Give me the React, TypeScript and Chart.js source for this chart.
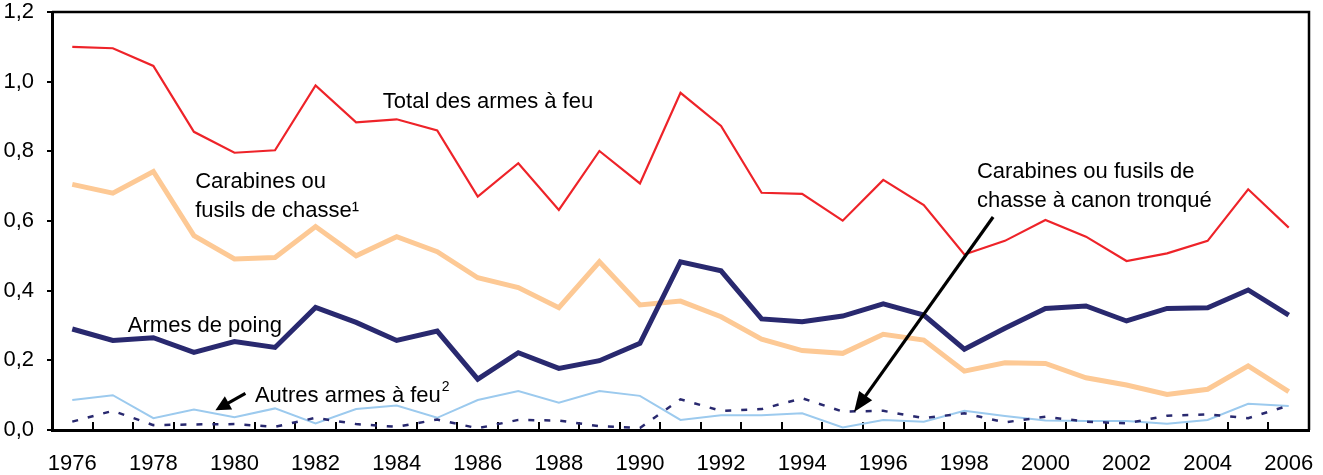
import React, { useEffect, useRef } from 'react';
import { Chart, registerables } from 'chart.js';

Chart.register(...registerables);

const years = ['1976','1977','1978','1979','1980','1981','1982','1983','1984','1985','1986','1987','1988','1989','1990','1991','1992','1993','1994','1995','1996','1997','1998','1999','2000','2001','2002','2003','2004','2005','2006'];

const totalFirearms = [1.100,1.096,1.045,0.856,0.796,0.803,0.989,0.883,0.892,0.860,0.670,0.766,0.632,0.801,0.708,0.968,0.873,0.681,0.678,0.601,0.718,0.646,0.504,0.543,0.603,0.555,0.485,0.507,0.543,0.691,0.581];
const riflesShotguns = [0.705,0.680,0.742,0.558,0.491,0.495,0.584,0.500,0.555,0.512,0.437,0.409,0.351,0.483,0.359,0.370,0.325,0.261,0.228,0.220,0.275,0.258,0.169,0.193,0.191,0.150,0.129,0.102,0.117,0.184,0.110];
const handguns = [0.290,0.257,0.265,0.223,0.254,0.237,0.352,0.309,0.257,0.284,0.146,0.222,0.177,0.199,0.249,0.483,0.457,0.319,0.311,0.327,0.362,0.330,0.232,0.292,0.349,0.356,0.313,0.349,0.351,0.402,0.330];
const otherFirearms = [0.086,0.100,0.034,0.059,0.037,0.062,0.019,0.060,0.070,0.035,0.086,0.112,0.078,0.112,0.098,0.029,0.042,0.042,0.048,0.007,0.029,0.024,0.055,0.040,0.027,0.026,0.026,0.018,0.029,0.075,0.069];
const sawedOff = [0.024,0.055,0.014,0.016,0.017,0.009,0.035,0.017,0.009,0.030,0.005,0.029,0.027,0.011,0.006,0.088,0.055,0.060,0.091,0.053,0.055,0.034,0.048,0.022,0.038,0.024,0.019,0.041,0.045,0.034,0.070];

const yTicks = [0, 0.2, 0.4, 0.6, 0.8, 1.0, 1.2];

const FONT = '"Liberation Sans", Arial, Helvetica, sans-serif';
const RED = '#ee2329';
const PEACH = '#fdc995';
const NAVY = '#29296f';
const LIGHTBLUE = '#9ccaee';

// annotation text, positioned in data units (category index, value)
const notes = [
  { text: 'Total des armes à feu', x: 7.66, y: 0.9245 },
  { text: 'Carabines ou', x: 3.03, y: 0.6948 },
  { text: 'fusils de chasse¹', x: 3.03, y: 0.6115 },
  { text: 'Armes de poing', x: 1.37, y: 0.282 },
  { text: 'Autres armes à feu', x: 4.505, y: 0.0813, sup: '2' },
  { text: 'Carabines ou fusils de', x: 22.31, y: 0.7244 },
  { text: 'chasse à canon tronqué', x: 22.31, y: 0.641 },
];

const arrows = [
  { x1: 4.27, y1: 0.105, x2: 3.53, y2: 0.057, head: 15, width: 15 },
  { x1: 22.71, y1: 0.6115, x2: 19.28, y2: 0.0517, head: 20, width: 16 },
];

function drawArrow(ctx: CanvasRenderingContext2D, x1: number, y1: number, x2: number, y2: number, head: number, width: number) {
  const ang = Math.atan2(y2 - y1, x2 - x1);
  const bx = x2 - head * Math.cos(ang);
  const by = y2 - head * Math.sin(ang);
  ctx.lineWidth = 3.2;
  ctx.strokeStyle = '#000';
  ctx.beginPath();
  ctx.moveTo(x1, y1);
  ctx.lineTo(bx + 2 * Math.cos(ang), by + 2 * Math.sin(ang));
  ctx.stroke();
  ctx.fillStyle = '#000';
  ctx.beginPath();
  ctx.moveTo(x2, y2);
  ctx.lineTo(bx + (width / 2) * Math.sin(ang), by - (width / 2) * Math.cos(ang));
  ctx.lineTo(bx - (width / 2) * Math.sin(ang), by + (width / 2) * Math.cos(ang));
  ctx.closePath();
  ctx.fill();
}

const annotatePlugin = {
  id: 'annotate',
  afterDraw(chart: any) {
    const { ctx, chartArea } = chart;
    const xs = chart.scales.x;
    const ys = chart.scales.y;
    ctx.save();
    // top and right frame
    ctx.strokeStyle = '#000';
    ctx.lineWidth = 2.5;
    ctx.beginPath();
    ctx.moveTo(chartArea.left, chartArea.top);
    ctx.lineTo(chartArea.right, chartArea.top);
    ctx.lineTo(chartArea.right, chartArea.bottom);
    ctx.stroke();

    ctx.fillStyle = '#000';
    ctx.textAlign = 'left';
    ctx.textBaseline = 'alphabetic';
    for (const n of notes) {
      const px = xs.getPixelForValue(n.x);
      const py = ys.getPixelForValue(n.y);
      ctx.font = `22px ${FONT}`;
      ctx.fillText(n.text, px, py);
      if (n.sup) {
        const w = ctx.measureText(n.text).width;
        ctx.font = `14px ${FONT}`;
        ctx.fillText(n.sup, px + w + 1, py - 11);
      }
    }
    for (const a of arrows) {
      drawArrow(ctx, xs.getPixelForValue(a.x1), ys.getPixelForValue(a.y1), xs.getPixelForValue(a.x2), ys.getPixelForValue(a.y2), a.head, a.width);
    }
    ctx.restore();
  },
};

export default function App() {
  const ref = useRef<HTMLCanvasElement | null>(null);

  useEffect(() => {
    if (!ref.current) return;
    const chart = new Chart(ref.current, {
      type: 'line',
      data: {
        labels: years,
        datasets: [
          { label: 'Total des armes à feu', data: totalFirearms, borderColor: RED, borderWidth: 2.2, pointRadius: 0, tension: 0, fill: false },
          { label: 'Armes de poing', data: handguns, borderColor: NAVY, borderWidth: 5, pointRadius: 0, tension: 0, fill: false },
          { label: 'Carabines ou fusils de chasse à canon tronqué', data: sawedOff, borderColor: NAVY, borderWidth: 2.5, borderDash: [6, 10], pointRadius: 0, tension: 0, fill: false },
          { label: 'Autres armes à feu', data: otherFirearms, borderColor: LIGHTBLUE, borderWidth: 2, pointRadius: 0, tension: 0, fill: false },
          { label: 'Carabines ou fusils de chasse', data: riflesShotguns, borderColor: PEACH, borderWidth: 5, pointRadius: 0, tension: 0, fill: false },
        ],
      },
      options: {
        responsive: false,
        animation: false,
        devicePixelRatio: 1,
        layout: { padding: { left: 0, top: 12, right: 14, bottom: 0 } },
        plugins: { legend: { display: false }, tooltip: { enabled: false } },
        scales: {
          x: {
            type: 'category',
            offset: true,
            grid: { offset: true, drawOnChartArea: false, drawTicks: true, tickLength: -8, color: '#000', lineWidth: 2 },
            border: { display: true, color: '#000', width: 3 },
            ticks: {
              autoSkip: false,
              maxRotation: 0,
              minRotation: 0,
              padding: 29,
              color: '#000',
              font: { family: FONT, size: 22 },
              callback: (_v: any, i: number) => (Number(years[i]) % 2 === 0 ? years[i] : ''),
            },
            afterFit: (s: any) => { s.height = 45; s.paddingLeft = 0; s.paddingRight = 0; },
          },
          y: {
            min: 0,
            max: 1.2,
            afterBuildTicks: (s: any) => { s.ticks = yTicks.map((v) => ({ value: v })); },
            grid: { drawOnChartArea: false, drawTicks: true, tickLength: 5, color: '#000', lineWidth: 2 },
            border: { display: true, color: '#000', width: 3 },
            ticks: {
              padding: 13,
              color: '#000',
              font: { family: FONT, size: 22 },
              callback: (v: any) => Number(v).toFixed(1).replace('.', ','),
            },
            afterFit: (s: any) => { s.width = 52; s.paddingTop = 0; s.paddingBottom = 0; },
          },
        },
      },
      plugins: [annotatePlugin],
    });
    return () => chart.destroy();
  }, []);

  return (
    <div style={{ position: 'fixed', left: 0, top: 0, width: 1323, height: 475, background: '#fff' }}>
      <canvas ref={ref} width={1323} height={475} style={{ width: 1323, height: 475 }} />
    </div>
  );
}
